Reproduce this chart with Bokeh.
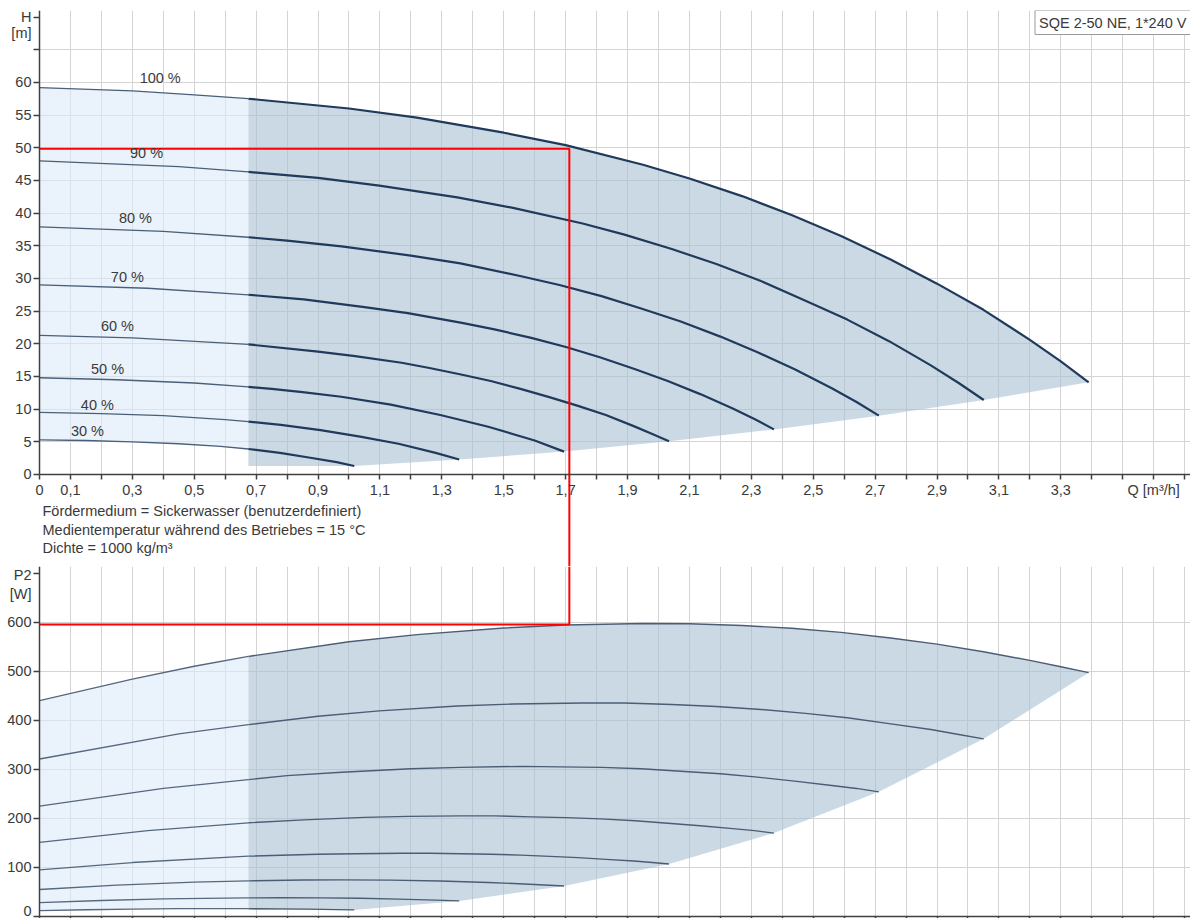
from bokeh.plotting import figure
from bokeh.models import Range1d, LinearAxis, FixedTicker, Grid, Label, BoxAnnotation
from bokeh.layouts import column
from bokeh.embed import file_html
from bokeh.resources import INLINE

FONT = "Liberation Sans"
TEXT = "#3a3a3a"
FS = "14.5px"

# ---------------- data ----------------
SPEED_LABELS = ["100 %", "90 %", "80 %", "70 %", "60 %", "50 %", "40 %", "30 %"]

Q_100 = [0, 0.3, 0.5, 0.675, 1.0, 1.22, 1.5, 1.7, 1.95, 2.1, 2.27, 2.43, 2.59, 2.75, 2.9, 3.05, 3.2, 3.3, 3.39]
H_100 = [59.2, 58.7, 58.1, 57.5, 56.0, 54.6, 52.3, 50.4, 47.4, 45.3, 42.6, 39.7, 36.5, 32.9, 29.2, 25.2, 20.6, 17.3, 14.1]
P_100 = [440, 484, 510, 530, 560, 574.5, 588, 594, 597, 596.5, 593, 587.5, 579, 567.5, 555, 539.5, 522, 509, 497]

Q_90 = [0, 0.45, 0.675, 0.9, 1.098, 1.35, 1.53, 1.755, 1.89, 2.043, 2.187, 2.331, 2.475, 2.61, 2.745, 2.88, 2.97, 3.051]
H_90 = [48.0, 47.1, 46.3, 45.4, 44.2, 42.4, 40.8, 38.4, 36.7, 34.5, 32.2, 29.6, 26.6, 23.7, 20.4, 16.7, 14.0, 11.4]
P_90 = [321, 372, 391, 408, 419, 429, 433, 435, 435, 432, 428, 422, 414, 405, 393, 381, 371, 362]

Q_80 = [0, 0.4, 0.675, 0.8, 0.976, 1.2, 1.36, 1.56, 1.68, 1.816, 1.944, 2.072, 2.2, 2.32, 2.44, 2.56, 2.64, 2.712]
H_80 = [37.9, 37.2, 36.3, 35.8, 34.9, 33.5, 32.3, 30.3, 29.0, 27.3, 25.4, 23.4, 21.1, 18.7, 16.1, 13.2, 11.1, 9.0]
P_80 = [225, 261, 279, 287, 294, 301, 304, 306, 305, 304, 301, 296, 291, 284, 276, 267, 261, 254]

Q_70 = [0, 0.35, 0.675, 0.854, 1.05, 1.19, 1.365, 1.47, 1.589, 1.701, 1.813, 1.925, 2.03, 2.135, 2.24, 2.31, 2.373]
H_70 = [29.0, 28.5, 27.5, 26.8, 25.6, 24.7, 23.2, 22.2, 20.9, 19.5, 17.9, 16.1, 14.3, 12.3, 10.1, 8.5, 6.9]
P_70 = [151, 175, 191, 197, 202, 204, 205, 205, 203, 201.5, 199, 195, 190, 185, 179, 175, 170]

Q_60 = [0, 0.3, 0.675, 0.9, 1.02, 1.17, 1.26, 1.362, 1.458, 1.554, 1.65, 1.74, 1.83, 1.92, 1.98, 2.034]
H_60 = [21.3, 20.9, 19.9, 18.8, 18.1, 17.1, 16.3, 15.3, 14.3, 13.1, 11.8, 10.5, 9.1, 7.4, 6.2, 5.1]
P_60 = [95, 110, 123, 127, 128, 129, 129, 128, 127, 125, 122.5, 120, 116.5, 113, 110, 107]

Q_50 = [0, 0.25, 0.5, 0.675, 0.75, 0.85, 0.975, 1.135, 1.295, 1.45, 1.6, 1.695]
H_50 = [14.8, 14.5, 14.0, 13.4, 13.1, 12.6, 11.9, 10.7, 9.1, 7.3, 5.2, 3.5]
P_50 = [55, 63.8, 70, 72.6, 73.5, 74.3, 74.6, 74.1, 72.4, 69.4, 65.3, 62.1]

Q_40 = [0, 0.2, 0.4, 0.6, 0.675, 0.78, 0.908, 1.036, 1.16, 1.28, 1.356]
H_40 = [9.5, 9.3, 9.0, 8.4, 8.1, 7.6, 6.8, 5.8, 4.7, 3.3, 2.3]
P_40 = [28.2, 32.6, 35.8, 37.6, 38.0, 38.2, 38.0, 37.1, 35.5, 33.4, 31.8]

Q_30 = [0, 0.15, 0.3, 0.45, 0.585, 0.675, 0.777, 0.87, 0.96, 1.017]
H_30 = [5.3, 5.2, 5.0, 4.7, 4.3, 3.9, 3.3, 2.6, 1.9, 1.3]
P_30 = [11.9, 13.8, 15.1, 15.9, 16.1, 16.0, 15.6, 15.0, 14.1, 13.4]

Q_SPLIT = 0.675          # end of the light (extended) range
Q_DUTY, H_DUTY, P_DUTY = 1.712, 49.85, 595

X_TICKS = [round(0.1 * i, 1) for i in range(38)]
X_LABEL_VALUES = [0.0, 0.1, 0.3, 0.5, 0.7, 0.9, 1.1, 1.3, 1.5, 1.7, 1.9, 2.1, 2.3, 2.5, 2.7, 2.9, 3.1, 3.3, 3.6]
X_LABEL_TEXTS = ["0", "0,1", "0,3", "0,5", "0,7", "0,9", "1,1", "1,3", "1,5", "1,7", "1,9",
                 "2,1", "2,3", "2,5", "2,7", "2,9", "3,1", "3,3", "Q [m³/h]"]
H_TICKS = [0, 5, 10, 15, 20, 25, 30, 35, 40, 45, 50, 55, 60, 65, 70]
H_TICK_LABELS = ["0", "5", "10", "15", "20", "25", "30", "35", "40", "45", "50", "55", "60", "", "H"]
P_TICKS = [0, 100, 200, 300, 400, 500, 600, 700]
P_TICK_LABELS = ["0", "100", "200", "300", "400", "500", "600", "P2"]

NOTES = ["Fördermedium = Sickerwasser (benutzerdefiniert)",
         "Medientemperatur während des Betriebes = 15 °C",
         "Dichte = 1000 kg/m³"]
PUMP_TITLE = "SQE 2-50 NE, 1*240 V"

# ---------------- layout constants ----------------
X_START, Q_MAX = -0.126, 3.719
H_TOP, H_BOTTOM = 71.0, -14.08
P_TOP, P_BOTTOM = 713.3, -4.08
LABEL_Q = [0.39, 0.346, 0.31, 0.284, 0.252, 0.22, 0.187, 0.155]
LABEL_H = [60.6, 49.2, 39.2, 30.2, 22.7, 16.1, 10.7, 6.6]

Q_ALL = [Q_100, Q_90, Q_80, Q_70, Q_60, Q_50, Q_40, Q_30]
H_ALL = [H_100, H_90, H_80, H_70, H_60, H_50, H_40, H_30]
P_ALL = [P_100, P_90, P_80, P_70, P_60, P_50, P_40, P_30]

LIGHT = "#dcebf8"
GRAY = "#a9bfd3"
GRID = "#d4d4d4"
AXIS = "#404040"


def make_fig(height, y_range, border_top):
    return figure(width=1190, height=height, x_range=Range1d(X_START, Q_MAX), y_range=y_range,
                  x_axis_type=None, y_axis_type=None, output_backend="svg",
                  toolbar_location=None, min_border_left=0, min_border_right=0,
                  min_border_top=border_top, min_border_bottom=0,
                  background_fill_color="white", border_fill_color="white",
                  outline_line_color=None)


def add_grids(p, y_grid_ticks):
    p.add_layout(Grid(dimension=0, ticker=FixedTicker(ticks=X_TICKS + [Q_MAX]),
                      grid_line_color=GRID))
    p.add_layout(Grid(dimension=1, ticker=FixedTicker(ticks=y_grid_ticks), grid_line_color=GRID))
    # keep the area left of the value axis blank
    p.add_layout(BoxAnnotation(right=0, fill_color="white", fill_alpha=1, line_alpha=0,
                               level="underlay"))


def style_axis(ax, tick_out):
    ax.axis_line_color = AXIS
    ax.axis_line_width = 1.5
    ax.major_tick_line_color = AXIS
    ax.major_tick_line_width = 1.5
    ax.major_tick_in = 0
    ax.major_tick_out = tick_out
    ax.minor_tick_line_color = None
    ax.major_label_text_font = FONT
    ax.major_label_text_font_size = FS
    ax.major_label_text_color = TEXT


def draw_region(p, values):
    qt, vt = Q_ALL[0], values[0]
    ql, vl = Q_ALL[-1], values[-1]
    lx = [q for q in qt if q <= Q_SPLIT] + [q for q in reversed(ql) if q <= Q_SPLIT]
    ly = ([v for q, v in zip(qt, vt) if q <= Q_SPLIT]
          + [v for q, v in zip(reversed(ql), reversed(vl)) if q <= Q_SPLIT])
    gx = [q for q in qt if q >= Q_SPLIT] + [qs[-1] for qs in Q_ALL[1:]] + [Q_SPLIT]
    gy = ([v for q, v in zip(qt, vt) if q >= Q_SPLIT] + [vs[-1] for vs in values[1:]]
          + [values[-1][-1]])
    p.patch(lx, ly, fill_color=LIGHT, fill_alpha=0.6, line_color=None)
    p.patch(gx, gy, fill_color=GRAY, fill_alpha=0.6, line_color=None)


def draw_curves(p, values, thin_w, thick_w, thin_c, thick_c):
    for qs, vs in zip(Q_ALL, values):
        lq = [q for q in qs if q <= Q_SPLIT]
        lv = [v for q, v in zip(qs, vs) if q <= Q_SPLIT]
        rq = [q for q in qs if q >= Q_SPLIT]
        rv = [v for q, v in zip(qs, vs) if q >= Q_SPLIT]
        p.line(lq, lv, line_color=thin_c, line_width=thin_w, line_join="round")
        p.line(rq, rv, line_color=thick_c, line_width=thick_w, line_join="round")


def value_axis(p, ticks, labels, top):
    ax = LinearAxis(ticker=FixedTicker(ticks=ticks), fixed_location=0, bounds=(0, top),
                    major_label_overrides=dict(zip(ticks, labels)), major_label_standoff=2)
    style_axis(ax, 6)
    p.add_layout(ax, "left")


def unit_axis(p, pos, text):
    ax = LinearAxis(ticker=FixedTicker(ticks=[pos]), fixed_location=0,
                    major_label_overrides={pos: text}, major_label_standoff=2)
    style_axis(ax, 6)
    ax.axis_line_color = None
    ax.major_tick_line_color = None
    p.add_layout(ax, "left")


# ---------------- top panel: H ----------------
top = make_fig(566, Range1d(H_BOTTOM, H_TOP), 10)
add_grids(top, H_TICKS[:-1] + [H_TOP])
top.add_layout(BoxAnnotation(top=0, fill_color="white", fill_alpha=1, line_alpha=0,
                             level="underlay"))

draw_region(top, H_ALL)
draw_curves(top, H_ALL, 1.3, 2.2, "#4a5f78", "#1f3a5a")

top.line([0, Q_DUTY, Q_DUTY], [H_DUTY, H_DUTY, H_BOTTOM], line_color="#ff0000", line_width=2)

for txt, lq, lh in zip(SPEED_LABELS, LABEL_Q, LABEL_H):
    top.add_layout(Label(x=lq, y=lh, text=txt, text_align="center", text_baseline="middle",
                         text_font=FONT, text_font_size=FS, text_color=TEXT))

for i, note in enumerate(NOTES):
    top.add_layout(Label(x=0, y=-5.66 - 2.76 * i, x_offset=3, text=note, text_align="left",
                         text_baseline="middle", text_font=FONT, text_font_size=FS,
                         text_color=TEXT))

top.add_layout(Label(x=Q_MAX, y=H_TOP, text=PUMP_TITLE, text_align="right",
                     text_baseline="top", text_font=FONT, text_font_size=FS,
                     text_color=TEXT, background_fill_color="white",
                     border_line_color="#9a9a9a", border_line_width=1, padding=4))

xax = LinearAxis(ticker=FixedTicker(ticks=X_TICKS), fixed_location=0, bounds=(0, Q_MAX),
                 major_label_overrides={t: dict(zip(X_LABEL_VALUES, X_LABEL_TEXTS)).get(t, "")
                                        for t in X_TICKS},
                 major_label_standoff=3)
style_axis(xax, 5)
top.add_layout(xax, "below")

value_axis(top, H_TICKS, H_TICK_LABELS, H_TOP)
unit_axis(top, 67.5, "[m]")

# ---------------- bottom panel: P2 ----------------
bot = make_fig(352, Range1d(P_BOTTOM, P_TOP), 0)
add_grids(bot, P_TICKS[:-1] + [P_TOP])

draw_region(bot, P_ALL)
draw_curves(bot, P_ALL, 1.3, 1.4, "#56687e", "#4a5d74")

bot.line([Q_DUTY, Q_DUTY, 0], [P_TOP, P_DUTY, P_DUTY], line_color="#ff0000", line_width=2)

bxax = LinearAxis(ticker=FixedTicker(ticks=X_TICKS), fixed_location=0, bounds=(0, Q_MAX))
style_axis(bxax, 5)
bxax.major_label_text_color = None
bot.add_layout(bxax, "below")

value_axis(bot, P_TICKS, P_TICK_LABELS, P_TOP)
unit_axis(bot, 657.5, "[W]")

layout = column(top, bot, spacing=0)
open("out.html", "w").write(file_html(layout, INLINE, "SQE 2-50 NE"))
